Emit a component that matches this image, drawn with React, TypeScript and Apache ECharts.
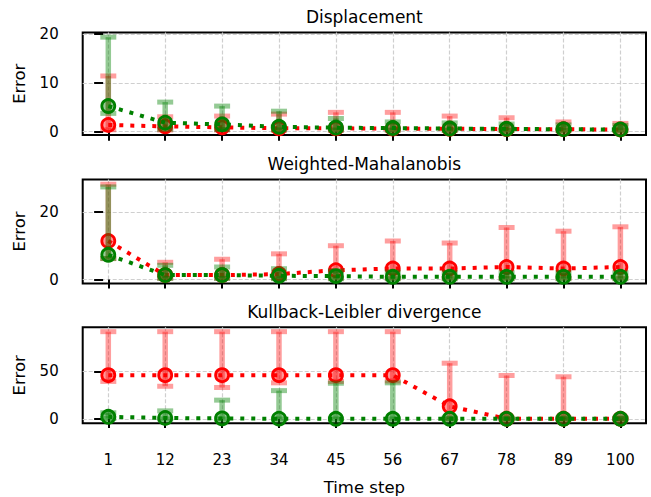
import React, { useEffect, useRef } from "react";
import * as echarts from "echarts";

const xs = [1, 12, 23, 34, 45, 56, 67, 78, 89, 100];
const titles = ["Displacement", "Weighted-Mahalanobis", "Kullback-Leibler divergence"];
const yTicks = [[0, 10, 20], [0, 20], [0, 50]];
const yMins = [-0.67, -1.18, -4.6];
const yMaxs = [20.29, 29.6, 96.5];

// Displacement
const dispRed = [1.37, 1.1, 0.9, 0.7, 0.7, 0.65, 0.6, 0.55, 0.5, 0.45];
const dispRedHi = [11.4, 3.06, 3.2, 3.6, 3.96, 3.96, 3.2, 2.86, 2.0, 1.7];
const dispRedLo = [0.4, 0.35, 0.35, 0.3, 0.3, 0.3, 0.3, 0.3, 0.3, 0.29];
const dispGreen = [5.24, 1.84, 1.5, 1.0, 0.82, 0.75, 0.65, 0.6, 0.5, 0.45];
const dispGreenHi = [19.34, 6.06, 5.24, 4.2, 2.7, 2.0, 1.8, 1.6, 1.4, 1.3];
const dispGreenLo = [3.75, 0.5, 0.45, 0.4, 0.35, 0.35, 0.3, 0.3, 0.3, 0.3];

// Weighted-Mahalanobis
const mahaRed = [11.4, 1.3, 1.3, 1.6, 2.75, 3.25, 3.25, 3.7, 3.25, 3.7];
const mahaRedHi = [28.2, 5.1, 6.0, 7.6, 10.0, 11.4, 10.8, 15.4, 14.3, 15.6];
const mahaRedLo = [6.2, 0.4, 0.4, 0.4, 0.4, 0.4, 0.4, 0.4, 0.4, 0.4];
const mahaGreen = [7.3, 1.3, 1.3, 1.1, 1.0, 0.8, 0.8, 0.8, 0.8, 0.8];
const mahaGreenHi = [27.4, 4.2, 3.7, 3.2, 2.5, 2.2, 2.0, 2.0, 2.0, 2.0];
const mahaGreenLo = [6.2, 0.3, 0.3, 0.25, 0.22, 0.22, 0.22, 0.22, 0.22, 0.22];

// Kullback-Leibler divergence
const klRed = [46.1, 46.1, 46.1, 46.1, 46.1, 46.1, 13.3, 0.2, 0.2, 0.2];
const klRedHi = [91.9, 91.9, 91.9, 91.9, 91.9, 91.9, 58.7, 45.7, 44.4, 0.5];
const klRedLo = [39.5, 34.4, 33.1, 38.0, 39.5, 40.0, 0, 0, 0, 0];
const klGreen = [2.2, 1.0, 0.5, 0.2, 0.1, 0.1, 0.1, 0.1, 0.1, 0.1];
const klGreenHi = [6.5, 8.5, 19.8, 29.8, 37.6, 38.0, 1.0, 1.0, 1.0, 1.0];
const klGreenLo = [0.5, 0, 0, 0, 0, 0, 0, 0, 0, 0];

const panels = [
  { red: dispRed, redHi: dispRedHi, redLo: dispRedLo, green: dispGreen, greenHi: dispGreenHi, greenLo: dispGreenLo },
  { red: mahaRed, redHi: mahaRedHi, redLo: mahaRedLo, green: mahaGreen, greenHi: mahaGreenHi, greenLo: mahaGreenLo },
  { red: klRed, redHi: klRedHi, redLo: klRedLo, green: klGreen, greenHi: klGreenHi, greenLo: klGreenLo },
];

const FONT = "DejaVu Sans";
const gridTops = [32.5, 179.5, 327.3];
const gridHeights = [102.5, 104, 103.7];
const GL = 82.7;
const GR = 5;

function errRender(fill: string) {
  return (params: any, api: any) => {
    const x = api.value(0);
    const lo = api.value(1);
    const hi = api.value(2);
    const pH = api.coord([x, hi]);
    const pL = api.coord([x, lo]);
    const bw = 5.5;
    const cw = 16;
    const ch = 5;
    return {
      type: "group",
      children: [
        { type: "rect", shape: { x: pH[0] - bw / 2, y: pH[1], width: bw, height: pL[1] - pH[1] }, style: { fill } },
        { type: "rect", shape: { x: pH[0] - cw / 2, y: pH[1] - ch / 2, width: cw, height: ch }, style: { fill } },
        { type: "rect", shape: { x: pL[0] - cw / 2, y: pL[1] - ch / 2, width: cw, height: ch }, style: { fill } },
      ],
    };
  };
}

export default function App() {
  const ref = useRef<HTMLDivElement>(null);
  useEffect(() => {
    if (!ref.current) return;
    const chart = echarts.init(ref.current, null, { renderer: "svg" });
    const grid: any[] = [];
    const xAxis: any[] = [];
    const yAxis: any[] = [];
    const series: any[] = [];
    const graphic: any[] = [];
    panels.forEach((p, i) => {
      grid.push({
        left: GL, right: GR, top: gridTops[i], height: gridHeights[i],
        show: true, borderColor: "#000", borderWidth: 2, backgroundColor: "transparent",
      });
      xAxis.push({
        type: "value", gridIndex: i, min: -3.95, max: 104.95,
        axisLine: { show: false },
        axisTick: { show: true, customValues: xs, length: 9, lineStyle: { color: "#000", width: 2 } },
        axisLabel: { show: i === 2, customValues: xs, fontSize: 15, color: "#000", margin: 29, fontFamily: FONT },
        splitLine: { show: true, lineStyle: { color: "#cfcfcf", type: [4, 2], width: 1.2 } },
        name: i === 2 ? "Time step" : "",
        nameLocation: "middle", nameGap: 55.7,
        nameTextStyle: { fontSize: 16.5, color: "#000", fontFamily: FONT },
      });
      yAxis.push({
        type: "value", gridIndex: i, min: yMins[i], max: yMaxs[i],
        axisLine: { show: false },
        axisTick: { show: true, customValues: yTicks[i], length: 9, lineStyle: { color: "#000", width: 2 } },
        axisLabel: { show: true, customValues: yTicks[i], fontSize: 15, color: "#000", margin: 24, fontFamily: FONT },
        splitLine: { show: true, lineStyle: { color: "#cfcfcf", type: [4, 2], width: 1.2 } },
        name: "Error", nameLocation: "middle", nameGap: 55, nameRotate: 90,
        nameTextStyle: { fontSize: 16.5, color: "#000", fontFamily: FONT },
      });
      series.push({
        type: "custom", xAxisIndex: i, yAxisIndex: i, z: 2,
        renderItem: errRender("rgba(255,0,0,0.38)"),
        data: xs.map((x, k) => [x, p.redLo[k], p.redHi[k]]),
        encode: { x: 0, y: [1, 2] },
      });
      series.push({
        type: "line", xAxisIndex: i, yAxisIndex: i, z: 3,
        data: xs.map((x, k) => [x, p.red[k]]),
        symbol: "circle", symbolSize: 13,
        itemStyle: { color: "rgba(255,0,0,0.4)", borderColor: "#ff0000", borderWidth: 2.8 },
        lineStyle: { color: "#ff0000", width: 4, type: [4, 7] },
      });
      series.push({
        type: "custom", xAxisIndex: i, yAxisIndex: i, z: 4,
        renderItem: errRender("rgba(0,128,0,0.42)"),
        data: xs.map((x, k) => [x, p.greenLo[k], p.greenHi[k]]),
        encode: { x: 0, y: [1, 2] },
      });
      series.push({
        type: "line", xAxisIndex: i, yAxisIndex: i, z: 5,
        data: xs.map((x, k) => [x, p.green[k]]),
        symbol: "circle", symbolSize: 13,
        itemStyle: { color: "rgba(0,128,0,0.4)", borderColor: "#008000", borderWidth: 2.8 },
        lineStyle: { color: "#008000", width: 4, type: [4, 7] },
      });
      graphic.push({
        type: "text", x: (GL + 651 - GR) / 2, y: gridTops[i] - 15.5,
        style: {
          text: titles[i], fontSize: 17, fontFamily: FONT, fill: "#000",
          textAlign: "center", textVerticalAlign: "middle",
        },
      });
    });
    chart.setOption({
      animation: false,
      backgroundColor: "#fff",
      grid, xAxis, yAxis, series, graphic,
    });
    return () => chart.dispose();
  }, []);
  return <div ref={ref} style={{ position: "fixed", left: 0, top: 0, width: 651, height: 497 }} />;
}
